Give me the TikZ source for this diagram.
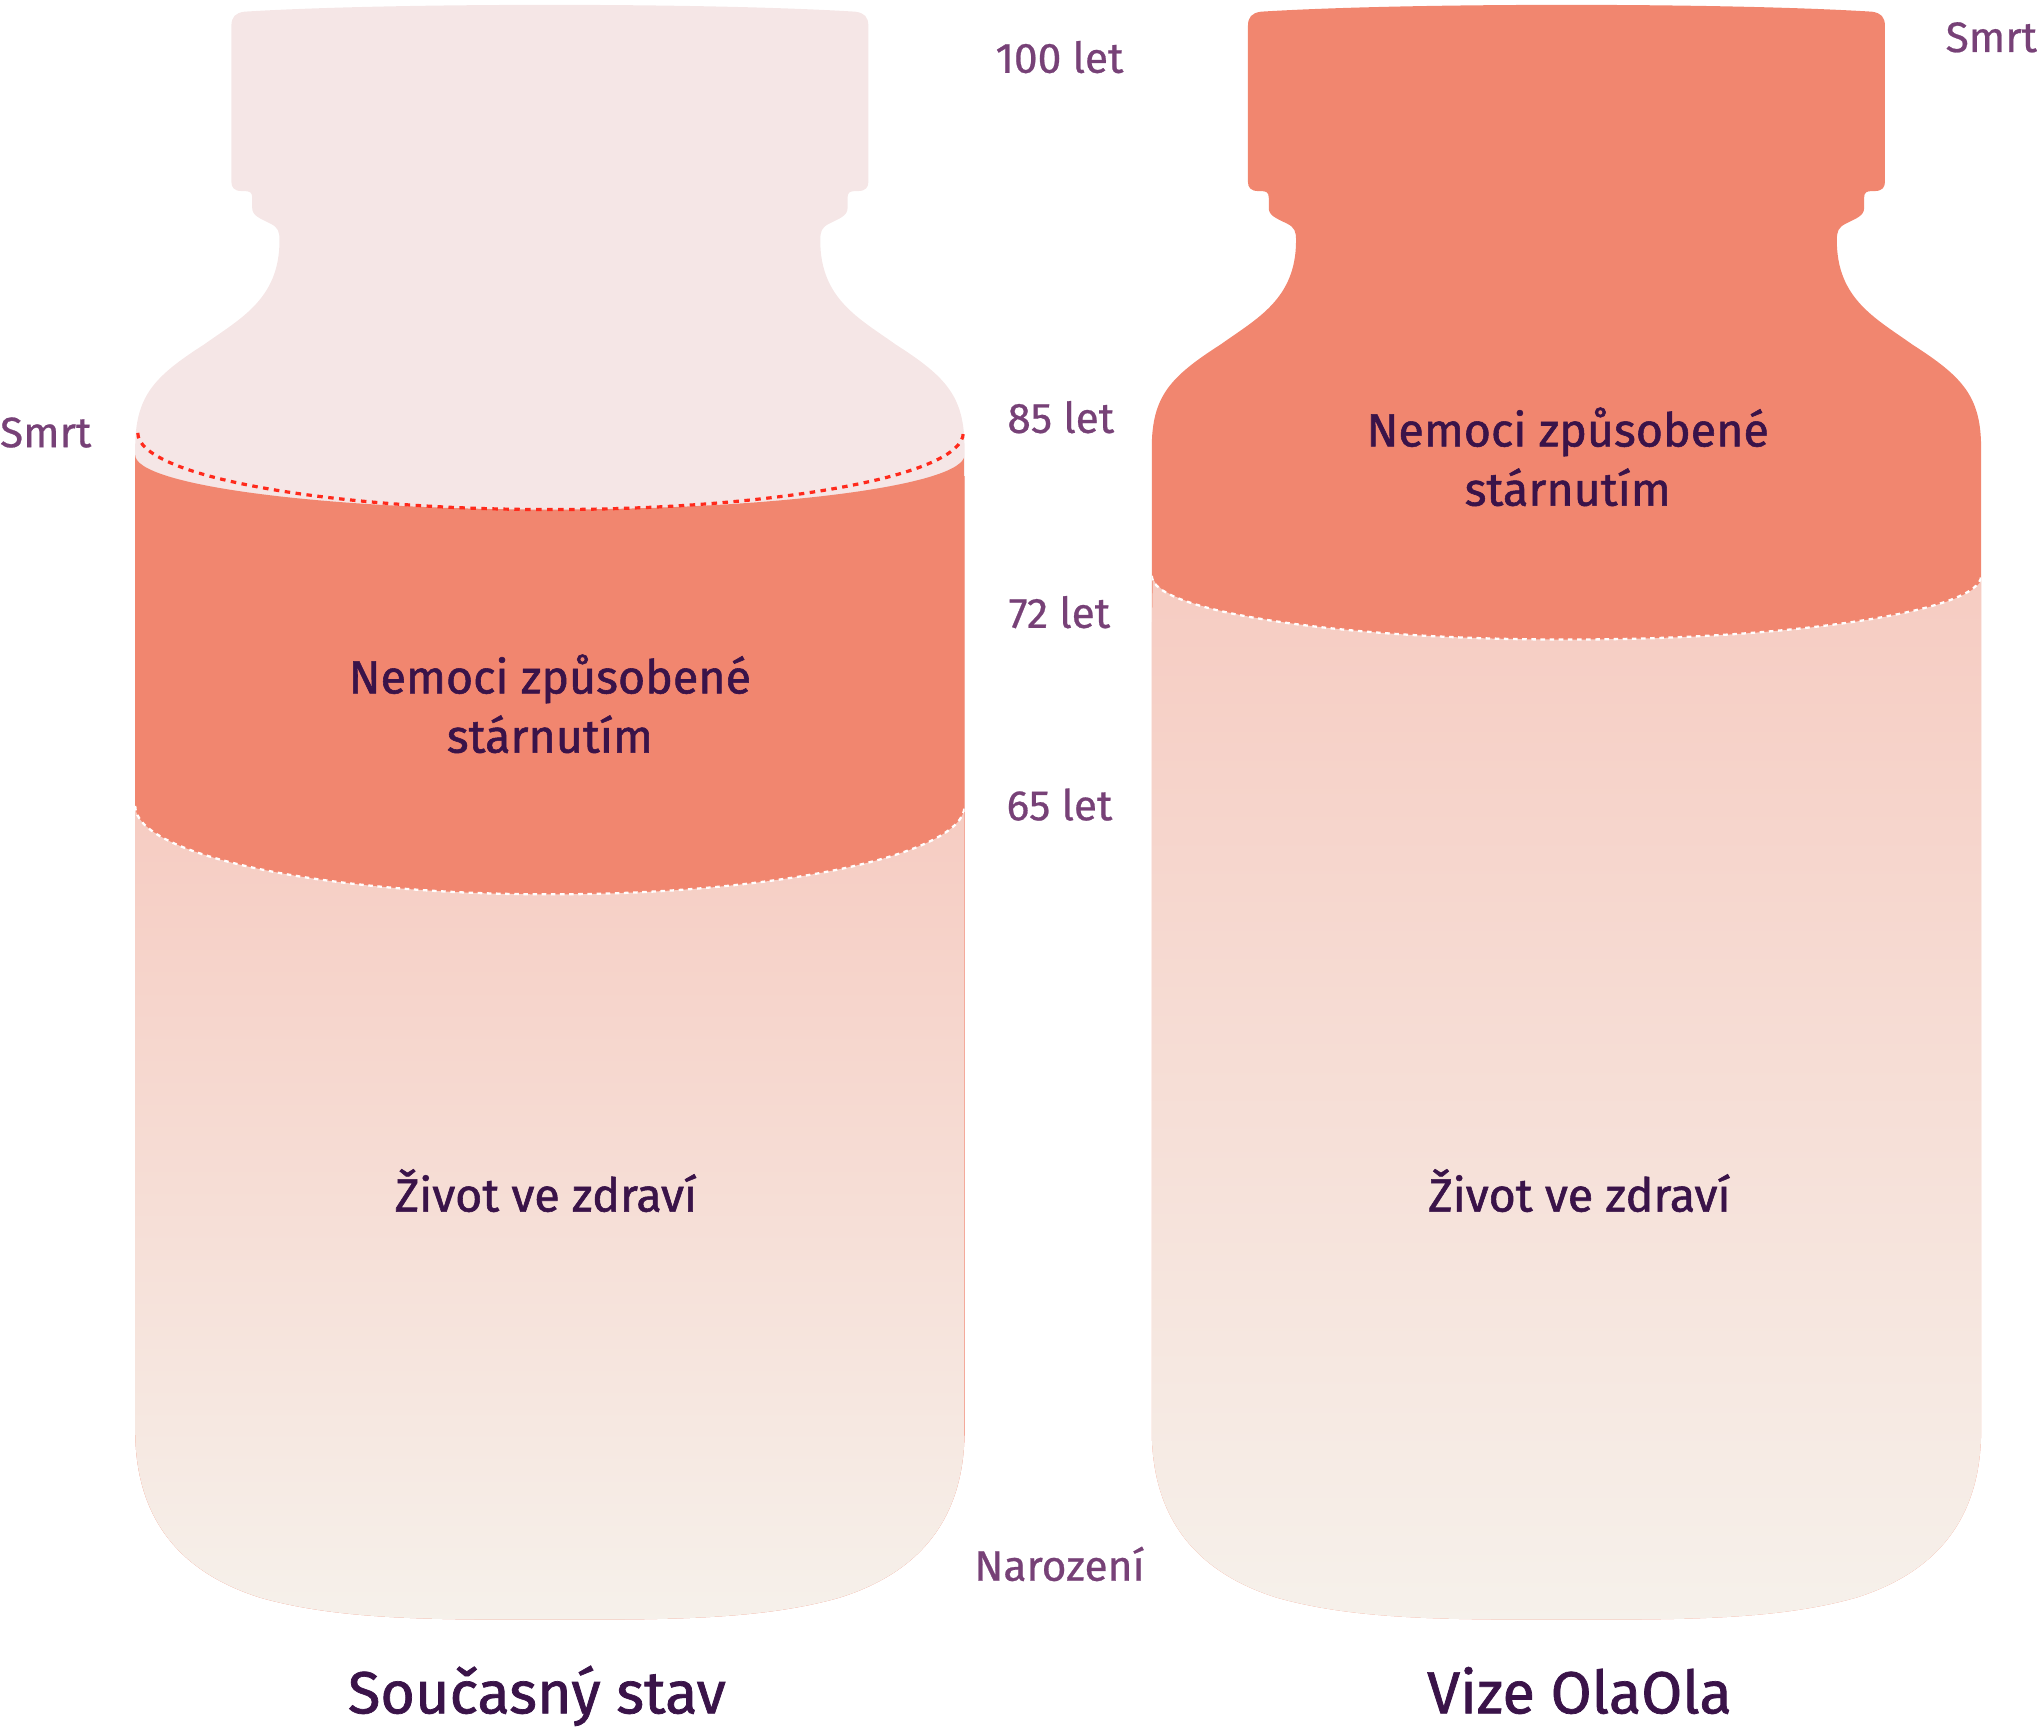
\documentclass[tikz,border=0pt]{standalone}
\usepackage{fontspec}
\setmainfont{Fira Sans}
\newfontfamily\heavyfont[FakeBold=1.2]{Fira Sans}
\newfontfamily\labelfont[FakeBold=0.6]{Fira Sans}
\usepackage{xcolor}

\definecolor{capPink}{HTML}{F5E6E6}
\definecolor{agingOrange}{HTML}{F1866F}
\definecolor{healthTop}{HTML}{F6CCC2}
\definecolor{healthBottom}{HTML}{F6F1EB}
\definecolor{labelPurple}{HTML}{774177}
\definecolor{darkPlum}{HTML}{3A1349}
\definecolor{deathRed}{HTML}{FF2A1C}

% outline of one bottle (left one, y grows downwards)
\newcommand{\bottleoutline}{(104,345) .. controls (104,305) and (118,290) .. (157,265)
  .. controls (185,245) and (215,230) .. (215,185)
  .. controls (215,178) and (214,175) .. (208,172)
  .. controls (200,168) and (194,166) .. (194,160)
  -- (194,152) .. controls (194,148) and (192,147) .. (188,147)
  -- (186,147) .. controls (180,147) and (178,144) .. (178,140)
  -- (178,20) .. controls (178,13) and (181,10) .. (188,9)
  .. controls (300,2) and (546,2) .. (658,9)
  .. controls (665,10) and (668,13) .. (668,20)
  -- (668,140) .. controls (668,144) and (666,147) .. (660,147)
  -- (658,147) .. controls (654,147) and (652,148) .. (652,152)
  -- (652,160) .. controls (652,166) and (646,168) .. (638,172)
  .. controls (632,175) and (631,178) .. (631,185)
  .. controls (631,230) and (661,245) .. (689,265)
  .. controls (728,290) and (742,305) .. (742,345)
  -- (742,1100) .. controls (742,1170) and (706,1210) .. (646,1229)
  .. controls (586,1246) and (516,1246) .. (423,1246)
  .. controls (330,1246) and (260,1246) .. (200,1229)
  .. controls (140,1210) and (104,1170) .. (104,1100) -- cycle}

\begin{document}
\begin{tikzpicture}[x=0.01cm, y=-0.01cm]
  \tikzstyle{every node}=[inner sep=0pt, outer sep=0pt]
  \tikzstyle{agelabel}=[font=\labelfont\fontsize{9.3}{11}\selectfont, text=labelPurple, anchor=base]
  \tikzstyle{phasetext}=[font=\heavyfont\fontsize{10.2}{12.95}\selectfont, text=darkPlum, align=center, anchor=base]
  \tikzstyle{bottletitle}=[font=\heavyfont\fontsize{13}{16}\selectfont, text=darkPlum, anchor=base]
  \tikzstyle{deathline}=[deathRed, line width=0.7pt, dash pattern=on 1.2pt off 1.2pt]
  \tikzstyle{borderline}=[white, line width=0.5pt, dash pattern=on 1pt off 1pt]
  \useasboundingbox (0,0) rectangle (1567,1333.9);

  % current state
  \begin{scope}
    \clip \bottleoutline;
    \fill[capPink] (90,0) rectangle (760,1260);
    \fill[agingOrange] (104,350) arc[start angle=180, end angle=0, x radius=319, y radius=42]
      -- (760,1260) -- (90,1260) -- cycle;
    \shade[top color=healthTop, bottom color=healthBottom] (104,620)
      arc[start angle=180, end angle=0, x radius=319, y radius=68]
      -- (760,1250) -- (90,1250) -- cycle;
    \draw[borderline] (104,620) arc[start angle=180, end angle=0, x radius=319, y radius=68];
  \end{scope}
  \draw[deathline] (106,333) arc[start angle=180, end angle=0, x radius=317.5, y radius=59];

  % vision
  \begin{scope}[shift={(782,0)}]
    \clip \bottleoutline;
    \fill[agingOrange] (90,0) rectangle (760,1260);
    \shade[top color=healthTop, bottom color=healthBottom] (104.8,443)
      arc[start angle=180, end angle=0, x radius=319, y radius=49]
      -- (760,1250) -- (90.8,1250) -- cycle;
    \draw[borderline] (104,443) arc[start angle=180, end angle=0, x radius=319, y radius=49];
  \end{scope}

  % ages
  \node[agelabel] (age100) at (815,56) {100 let};
  \node[agelabel] (age85) at (816,333) {85 let};
  \node[agelabel] (age72) at (815,483) {72 let};
  \node[agelabel] (age65) at (815,631) {65 let};
  \node[agelabel] (birth) at (815,1216) {Narození};
  \node[agelabel, anchor=base west] (deathNow) at (0,344) {Smrt};
  \node[agelabel, anchor=base east] (deathVision) at (1567,40) {Smrt};

  \node[phasetext] (diseaseNow) at (423,579) {Nemoci způsobené\\stárnutím};
  \node[phasetext] (diseaseVision) at (1206,389) {Nemoci způsobené\\stárnutím};
  \node[phasetext] (healthNow) at (420,932) {Život ve zdraví};
  \node[phasetext] (healthVision) at (1215,932) {Život ve zdraví};

  \node[bottletitle] (titleNow) at (413,1318) {Současný stav};
  \node[bottletitle] (titleVision) at (1215,1318) {Vize OlaOla};
\end{tikzpicture}
\end{document}
